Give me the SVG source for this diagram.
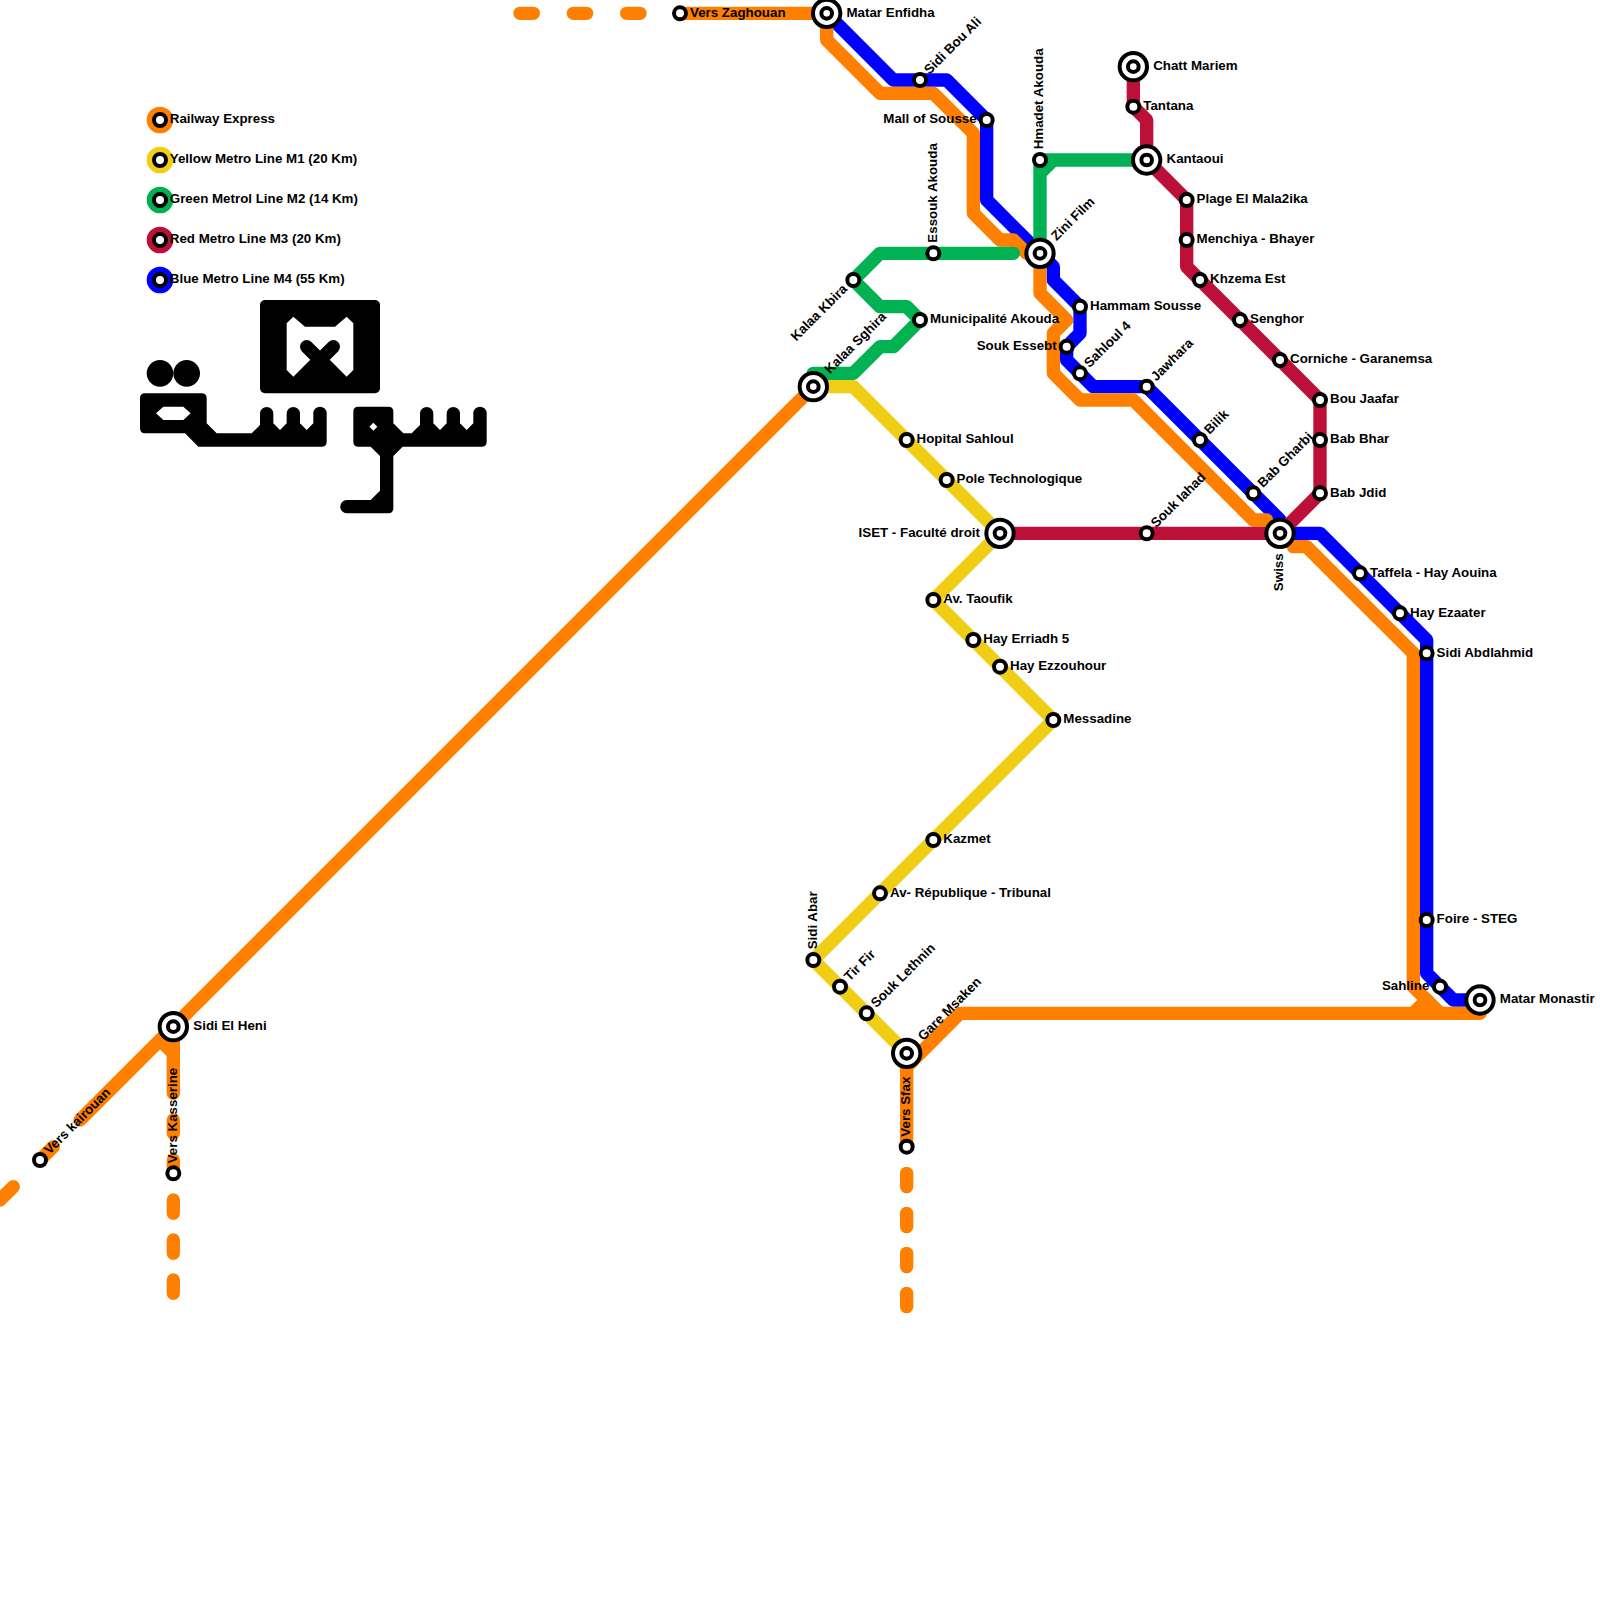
<svg xmlns="http://www.w3.org/2000/svg" width="1600" height="1600" viewBox="0 0 1600 1600">
<defs>
<style>
text{font-family:"Liberation Sans",Arial,sans-serif;font-weight:700;font-size:13.33px;fill:#000}
.l{fill:none;stroke-width:13.33;stroke-linejoin:round;stroke-linecap:round}
.or{stroke:#ff8000}.ye{stroke:#f0ce15}.gr{stroke:#00b251}.re{stroke:#bd1038}.bl{stroke:#0000ff}
.s{fill:#fff;stroke:#000;stroke-width:4}
.e{text-anchor:end}
</style>
<g id="st"><circle class="s" r="6"/></g>
<g id="ic"><circle class="s" r="13.67"/><circle class="s" r="5.33"/></g>
</defs>
<rect width="1600" height="1600" fill="#fff"/>
<g id="connectors">
<path class="l bl" d="M826.67 13.33L893.33 80H946.67L986.67 120V200L1040 253.33L1053.33 266.67V280L1080 306.67V333.33L1066.67 346.67V360L1093.33 386.67H1146.67L1280 520V533.33H1320L1426.67 640V973.33L1453.33 1000H1480"/>
<path class="l or" d="M680 13.33H826.67V40L880 93.33H933.33L973.33 133.33V213.33L1000 240H1013.33L1026.67 253.33"/>
<path class="l or" d="M1040 253.33V293.33L1066.67 320L1053.33 333.33V373.33L1080 400H1133.33L1253.33 520H1266.67"/>
<path class="l or" d="M1293.33 546.67H1306.67L1413.33 653.33V986.67L1440 1013.33"/>
<path class="l or" d="M1426.67 1000L1413.33 1013.33"/>
<path class="l or" d="M906.67 1146.67V1053.33M906.67 1066.67L960 1013.33H1480"/>
<path class="l or" d="M813.33 386.67L173.33 1026.67L80 1120M53.33 1146.67L40 1160M13.33 1186.67L0 1200"/>
<path class="l or" d="M173.33 1026.67V1093.33M160 1040L173.33 1053.33M173.33 1120V1133.33M173.33 1160V1173.33M173.33 1200V1213.33M173.33 1240V1253.33M173.33 1280V1293.33"/>
<path class="l or" d="M906.67 1173.33V1186.67M906.67 1213.33V1226.67M906.67 1253.33V1266.67M906.67 1293.33V1306.67"/>
<path class="l or" d="M520 13.33H533.33M573.33 13.33H586.67M626.67 13.33H640"/>
<path class="l ye" d="M813.33 386.67H853.33L1000 533.33L933.33 600L1053.33 720L813.33 960L906.67 1053.33"/>
<path class="l gr" d="M1040 253.33V160M1040 173.33L1053.33 160H1146.67M1040 160H1053.33"/>
<path class="l gr" d="M1013.33 253.33H880L853.33 280L880 306.67H906.67L920 320L893.33 346.67H880L853.33 373.33H813.33V386.67"/>
<path class="l re" d="M1133.33 66.67V106.67L1146.67 120V160L1186.67 200V266.67L1320 400V493.33L1280 533.33H1000"/>
</g>
<g id="legend">
<circle cx="160" cy="120" r="13.33" fill="#ff8000"/><use href="#st" x="160" y="120"/><text x="169.8" y="123">Railway Express</text>
<circle cx="160" cy="160" r="13.33" fill="#f0ce15"/><use href="#st" x="160" y="160"/><text x="169.8" y="163">Yellow Metro Line M1 (20 Km)</text>
<circle cx="160" cy="200" r="13.33" fill="#00b251"/><use href="#st" x="160" y="200"/><text x="169.8" y="203">Green Metrol Line M2 (14 Km)</text>
<circle cx="160" cy="240" r="13.33" fill="#bd1038"/><use href="#st" x="160" y="240"/><text x="169.8" y="243">Red Metro Line M3 (20 Km)</text>
<circle cx="160" cy="280" r="13.33" fill="#0000ff"/><use href="#st" x="160" y="280"/><text x="169.8" y="283">Blue Metro Line M4 (55 Km)</text>
</g>
<g id="logo">
<rect x="260" y="300" width="120" height="93.33" rx="5"/>
<polygon fill="#fff" points="286.67,323.33 293.33,316.67 305,326.67 335,326.67 346.67,316.67 353.33,323.33 353.33,370 346.67,376.67 320,350 293.33,376.67 286.67,370"/>
<path d="M306.67 346.67L320 360L333.33 346.67" fill="none" stroke="#000" stroke-width="13.33" stroke-linecap="round" stroke-linejoin="round"/>
<circle cx="160" cy="373.33" r="13.33"/><circle cx="186.67" cy="373.33" r="13.33"/>
<path fill-rule="evenodd" d="M145 393.33H201.67Q206.67 393.33 206.67 398.33V423.33L216.67 433.33H251.67L260 425V413.33A6.67 6.67 0 0 1 273.33 413.33V423.33L280 430L286.67 423.33V413.33A6.67 6.67 0 0 1 300 413.33V423.33L306.67 430L313.33 423.33V413.33A6.67 6.67 0 0 1 326.67 413.33V441.67Q326.67 446.67 321.67 446.67H198.33L185 433.33H145Q140 433.33 140 428.33V398.33Q140 393.33 145 393.33ZM156 413.33L163.33 420H183.33L190.67 413.33L183.33 406.67H163.33Z"/>
<path fill-rule="evenodd" d="M358.33 406.67H388.33Q393.33 406.67 393.33 411.67V423.33L403.33 433.33H411.67L420 425V413.33A6.67 6.67 0 0 1 433.33 413.33V423.33L440 430L446.67 423.33V413.33A6.67 6.67 0 0 1 460 413.33V423.33L466.67 430L473.33 423.33V413.33A6.67 6.67 0 0 1 486.67 413.33V441.67Q486.67 446.67 481.67 446.67H402.67L393.33 456V508.33Q393.33 513.33 388.33 513.33H346.67A6.67 6.67 0 0 1 346.67 500H370.67L380 490.67V456L370.67 446.67H358.33Q353.33 446.67 353.33 441.67V411.67Q353.33 406.67 358.33 406.67ZM369.33 426.67L373.33 430.67L377.33 426.67L373.33 422.67Z"/>
</g>
<g id="stations">
<g id="n-matar-enfidha"><use href="#ic" x="826.67" y="13.33"/><text x="846.5" y="16.5">Matar Enfidha</text></g>
<g id="n-vers-zaghouan"><use href="#st" x="680" y="13.33"/><text x="690" y="16.5">Vers Zaghouan</text></g>
<g id="n-sidi-bou-ali"><use href="#st" x="920" y="80"/><text transform="translate(920 80) rotate(-45)" x="10.3" y="3.2">Sidi Bou Ali</text></g>
<g id="n-mall"><use href="#st" x="986.67" y="120"/><text class="e" x="976.67" y="123.2">Mall of Sousse</text></g>
<g id="n-hmadet"><use href="#st" x="1040" y="160"/><text transform="translate(1040 160) rotate(-90)" x="10.67" y="3.2">Hmadet Akouda</text></g>
<g id="n-zini"><use href="#ic" x="1040" y="253.33"/><text transform="translate(1040 253.33) rotate(-45)" x="20.3" y="3.2">Zini Film</text></g>
<g id="n-essouk"><use href="#st" x="933.33" y="253.33"/><text transform="translate(933.33 253.33) rotate(-90)" x="10.67" y="3.2">Essouk Akouda</text></g>
<g id="n-kalaa-kbira"><use href="#st" x="853.33" y="280"/><text class="e" transform="translate(853.33 280) rotate(-45)" x="-10.67" y="3.2">Kalaa Kbira</text></g>
<g id="n-municipalite"><use href="#st" x="920" y="320"/><text x="930" y="323.2">Municipalité Akouda</text></g>
<g id="n-kalaa-sghira"><use href="#ic" x="813.33" y="386.67"/><text transform="translate(813.33 386.67) rotate(-45)" x="20.3" y="3.2">Kalaa Sghira</text></g>
<g id="n-chatt"><use href="#ic" x="1133.33" y="66.67"/><text x="1153.2" y="69.9">Chatt Mariem</text></g>
<g id="n-tantana"><use href="#st" x="1133.33" y="106.67"/><text x="1143.3" y="109.9">Tantana</text></g>
<g id="n-kantaoui"><use href="#ic" x="1146.67" y="160"/><text x="1166.5" y="163.2">Kantaoui</text></g>
<g id="n-plage"><use href="#st" x="1186.67" y="200"/><text x="1196.6" y="203.2">Plage El Mala2ika</text></g>
<g id="n-menchiya"><use href="#st" x="1186.67" y="240"/><text x="1196.6" y="243.2">Menchiya - Bhayer</text></g>
<g id="n-khzema"><use href="#st" x="1200" y="280"/><text x="1210" y="283.2">Khzema Est</text></g>
<g id="n-senghor"><use href="#st" x="1240" y="320"/><text x="1250" y="323.2">Senghor</text></g>
<g id="n-corniche"><use href="#st" x="1280" y="360"/><text x="1290" y="363.2">Corniche - Garanemsa</text></g>
<g id="n-bou-jaafar"><use href="#st" x="1320" y="400"/><text x="1330" y="403.2">Bou Jaafar</text></g>
<g id="n-bab-bhar"><use href="#st" x="1320" y="440"/><text x="1330" y="443.2">Bab Bhar</text></g>
<g id="n-bab-jdid"><use href="#st" x="1320" y="493.33"/><text x="1330" y="496.5">Bab Jdid</text></g>
<g id="n-hammam"><use href="#st" x="1080" y="306.67"/><text x="1090" y="309.9">Hammam Sousse</text></g>
<g id="n-souk-essebt"><use href="#st" x="1066.67" y="346.67"/><text class="e" x="1056.67" y="349.9">Souk Essebt</text></g>
<g id="n-sahloul"><use href="#st" x="1080" y="373.33"/><text transform="translate(1080 373.33) rotate(-45)" x="10.3" y="3.2">Sahloul 4</text></g>
<g id="n-jawhara"><use href="#st" x="1146.67" y="386.67"/><text transform="translate(1146.67 386.67) rotate(-45)" x="10.3" y="3.2">Jawhara</text></g>
<g id="n-bilik"><use href="#st" x="1200" y="440"/><text transform="translate(1200 440) rotate(-45)" x="10.3" y="3.2">Bilik</text></g>
<g id="n-bab-gharbi"><use href="#st" x="1253.33" y="493.33"/><text transform="translate(1253.33 493.33) rotate(-45)" x="10.3" y="3.2">Bab Gharbi</text></g>
<g id="n-swiss"><use href="#ic" x="1280" y="533.33"/><text class="e" transform="translate(1280 533.33) rotate(-90)" x="-20" y="3.2">Swiss</text></g>
<g id="n-souk-iahad"><use href="#st" x="1146.67" y="533.33"/><text transform="translate(1146.67 533.33) rotate(-45)" x="10.3" y="3.2">Souk Iahad</text></g>
<g id="n-taffela"><use href="#st" x="1360" y="573.33"/><text x="1370" y="576.5">Taffela - Hay Aouina</text></g>
<g id="n-hay-ezaater"><use href="#st" x="1400" y="613.33"/><text x="1410" y="616.5">Hay Ezaater</text></g>
<g id="n-sidi-abdlahmid"><use href="#st" x="1426.67" y="653.33"/><text x="1436.6" y="656.5">Sidi Abdlahmid</text></g>
<g id="n-foire"><use href="#st" x="1426.67" y="920"/><text x="1436.6" y="923.2">Foire - STEG</text></g>
<g id="n-sahline"><use href="#st" x="1440" y="986.67"/><text class="e" x="1429.33" y="989.9">Sahline</text></g>
<g id="n-monastir"><use href="#ic" x="1480" y="1000"/><text x="1499.8" y="1003.2">Matar Monastir</text></g>
<g id="n-gare-msaken"><use href="#ic" x="906.67" y="1053.33"/><text transform="translate(906.67 1053.33) rotate(-45)" x="20.3" y="3.2">Gare Msaken</text></g>
<g id="n-vers-sfax"><use href="#st" x="906.67" y="1146.67"/><text transform="translate(906.67 1146.67) rotate(-90)" x="10" y="3.2">Vers Sfax</text></g>
<g id="n-souk-lethnin"><use href="#st" x="866.67" y="1013.33"/><text transform="translate(866.67 1013.33) rotate(-45)" x="10.3" y="3.2">Souk Lethnin</text></g>
<g id="n-tir-fir"><use href="#st" x="840" y="986.67"/><text transform="translate(840 986.67) rotate(-45)" x="10.3" y="3.2">Tir Fir</text></g>
<g id="n-sidi-abar"><use href="#st" x="813.33" y="960"/><text transform="translate(813.33 960) rotate(-90)" x="10.67" y="3.2">Sidi Abar</text></g>
<g id="n-av-rep"><use href="#st" x="880" y="893.33"/><text x="890" y="896.5">Av- République - Tribunal</text></g>
<g id="n-kazmet"><use href="#st" x="933.33" y="840"/><text x="943.3" y="843.2">Kazmet</text></g>
<g id="n-messadine"><use href="#st" x="1053.33" y="720"/><text x="1063.3" y="723.2">Messadine</text></g>
<g id="n-ezzouhour"><use href="#st" x="1000" y="666.67"/><text x="1010" y="669.9">Hay Ezzouhour</text></g>
<g id="n-erriadh"><use href="#st" x="973.33" y="640"/><text x="983.3" y="643.2">Hay Erriadh 5</text></g>
<g id="n-taoufik"><use href="#st" x="933.33" y="600"/><text x="943.3" y="603.2">Av. Taoufik</text></g>
<g id="n-iset"><use href="#ic" x="1000" y="533.33"/><text class="e" x="980" y="536.5">ISET - Faculté droit</text></g>
<g id="n-pole"><use href="#st" x="946.67" y="480"/><text x="956.6" y="483.2">Pole Technologique</text></g>
<g id="n-hopital"><use href="#st" x="906.67" y="440"/><text x="916.6" y="443.2">Hopital Sahloul</text></g>
<g id="n-sidi-el-heni"><use href="#ic" x="173.33" y="1026.67"/><text x="193.33" y="1029.9">Sidi El Heni</text></g>
<g id="n-kairouan"><use href="#st" x="40" y="1160"/><text transform="translate(40 1160) rotate(-45)" x="10.3" y="3.2">Vers kairouan</text></g>
<g id="n-kasserine"><use href="#st" x="173.33" y="1173.33"/><text transform="translate(173.33 1173.33) rotate(-90)" x="10" y="3.2">Vers Kasserine</text></g>
</g>
</svg>
